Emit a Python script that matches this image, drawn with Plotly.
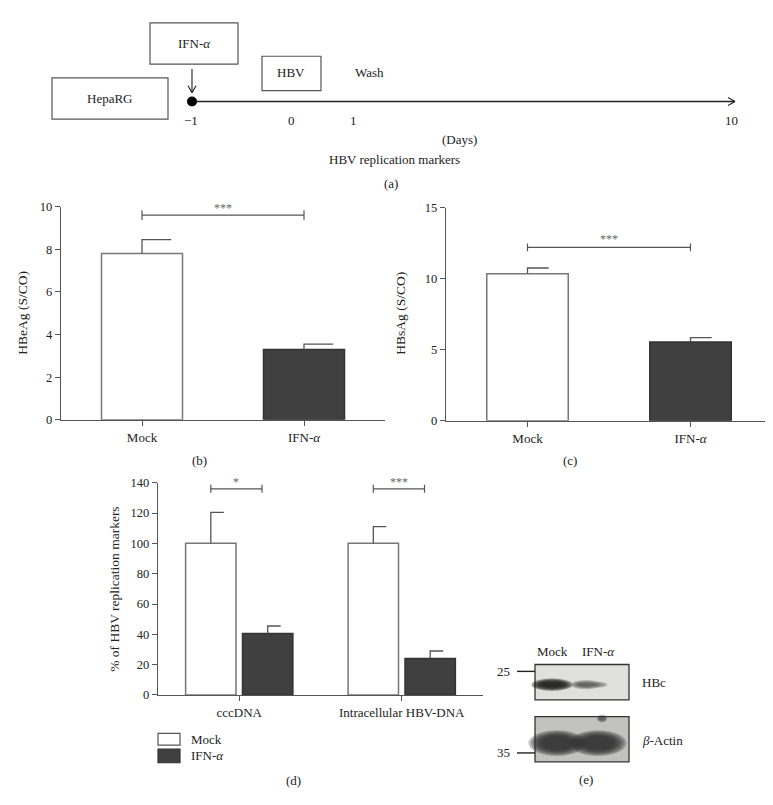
import plotly.graph_objects as go

W, H = 773, 805
def px(x): return x / W
def py(y): return 1 - y / H

FONT = "Liberation Serif, Times New Roman, serif"
AX = "#555555"
DARK = "#404040"
TXT = "#222222"

# ---------------- data ----------------
groups_bc = ["Mock", "IFN-<i>α</i>"]
hbeag = [7.8, 3.3]
hbeag_err = [0.65, 0.25]
hbsag = [10.35, 5.55]
hbsag_err = [0.4, 0.3]
markers = ["cccDNA", "Intracellular HBV-DNA"]
series = ["Mock", "IFN-<i>α</i>"]
mock_pct = [100, 100]
mock_pct_err = [20.5, 11]
ifn_pct = [40.5, 24]
ifn_pct_err = [5, 5]
sig_b = "***"
sig_c = "***"
sig_d = ["*", "***"]
bracket_b = 9.6
bracket_c = 12.2
bracket_d = [136, 136]
day_labels = ["−1", "0", "1", "10"]
blot_lanes = ["Mock", "IFN-<i>α</i>"]
blot_markers = ["25", "35"]
blot_proteins = ["HBc", "<i>β</i>-Actin"]

fig = go.Figure()

# ---------- helper traces ----------
def err_trace(xs, vals, errs, cap, xa, ya):
    X, Y = [], []
    for x, v, e in zip(xs, vals, errs):
        X += [x, x, x + cap, None]
        Y += [v, v + e, v + e, None]
    return go.Scatter(x=X, y=Y, mode="lines", line=dict(color=AX, width=1.3),
                      xaxis=xa, yaxis=ya, hoverinfo="skip", showlegend=False)

def bracket_trace(x0, x1, h, d, xa, ya):
    return go.Scatter(x=[x0, x0, None, x0, x1, None, x1, x1],
                      y=[h - d, h + d, None, h, h, None, h - d, h + d],
                      mode="lines", line=dict(color=AX, width=1.2),
                      xaxis=xa, yaxis=ya, hoverinfo="skip", showlegend=False)

# ---------- panel (b) ----------
fig.add_trace(go.Bar(x=[0, 1], y=hbeag, width=0.5,
                     marker=dict(color=["white", DARK], line=dict(color=["#777777", "#333333"], width=1.5)),
                     xaxis="x", yaxis="y", showlegend=False))
fig.add_trace(err_trace([0, 1], hbeag, hbeag_err, 0.18, "x", "y"))
fig.add_trace(bracket_trace(0, 1, bracket_b, 0.23, "x", "y"))

# ---------- panel (c) ----------
fig.add_trace(go.Bar(x=[0, 1], y=hbsag, width=0.5,
                     marker=dict(color=["white", DARK], line=dict(color=["#777777", "#333333"], width=1.5)),
                     xaxis="x2", yaxis="y2", showlegend=False))
fig.add_trace(err_trace([0, 1], hbsag, hbsag_err, 0.13, "x2", "y2"))
fig.add_trace(bracket_trace(0, 1, bracket_c, 0.28, "x2", "y2"))

# ---------- panel (d) ----------
bw = 0.31
off_m, off_i = -0.33, 0.02
fig.add_trace(go.Bar(x=[0, 1], y=mock_pct, width=bw, offset=off_m, name=series[0],
                     marker=dict(color="white", line=dict(color="#777777", width=1.5)),
                     xaxis="x3", yaxis="y3", showlegend=False))
fig.add_trace(go.Bar(x=[0, 1], y=ifn_pct, width=bw, offset=off_i, name=series[1],
                     marker=dict(color=DARK, line=dict(color="#333333", width=1.5)),
                     xaxis="x3", yaxis="y3", showlegend=False))
cm = [i + off_m + bw / 2 for i in range(2)]
ci = [i + off_i + bw / 2 for i in range(2)]
fig.add_trace(err_trace(cm, mock_pct, mock_pct_err, 0.08, "x3", "y3"))
fig.add_trace(err_trace(ci, ifn_pct, ifn_pct_err, 0.08, "x3", "y3"))
for i in range(2):
    fig.add_trace(bracket_trace(cm[i], ci[i] - 0.035, bracket_d[i], 2.6, "x3", "y3"))

# ---------- axes ----------
def xax(dom, rng, ticktext):
    return dict(domain=dom, range=rng, tickvals=list(range(len(ticktext))), ticktext=ticktext,
                showline=True, linecolor=AX, linewidth=1.3, ticks="outside", ticklen=5,
                tickcolor=AX, tickwidth=1.2, showgrid=False, zeroline=False, fixedrange=True,
                tickfont=dict(family=FONT, size=13, color=TXT))

def yax(dom, rng, dtick, anchor):
    return dict(domain=dom, range=rng, dtick=dtick, anchor=anchor,
                showline=True, linecolor=AX, linewidth=1.3, ticks="outside", ticklen=5,
                tickcolor=AX, tickwidth=1.2, showgrid=False, zeroline=False, fixedrange=True,
                tickfont=dict(family=FONT, size=12.5, color=TXT))

xb = xax([px(53), px(377)], [-0.5, 1.5], groups_bc); xb["anchor"] = "y"
xc = xax([px(438), px(764)], [-0.5, 1.5], groups_bc); xc["anchor"] = "y2"
xd = xax([px(150), px(475)], [-0.5, 1.5], markers); xd["anchor"] = "y3"

fig.update_layout(
    xaxis=xb, yaxis=yax([py(412), py(195)], [0, 10], 2, "x"),
    xaxis2=xc, yaxis2=yax([py(413), py(196)], [0, 15], 5, "x2"),
    xaxis3=xd, yaxis3=yax([py(692), py(476)], [0, 140], 20, "x3"),
)

ann = []
def A(x, y, text, size=13, color=TXT, angle=0, xanchor="center", **kw):
    ann.append(dict(x=px(x), y=py(y), xref="paper", yref="paper", text=text, showarrow=False,
                    font=dict(family=FONT, size=size, color=color), textangle=angle,
                    xanchor=xanchor, yanchor="middle", **kw))

def star(xa, ya, x, y, text, shift):
    ann.append(dict(x=x, y=y, xref=xa, yref=ya, text=text, showarrow=False,
                    font=dict(family=FONT, size=12, color="#666666"),
                    xanchor="center", yanchor="middle", yshift=shift))
star("x", "y", 0.5, bracket_b, sig_b, 7)
star("x2", "y2", 0.5, bracket_c, sig_c, 8)
for i in range(2):
    star("x3", "y3", (cm[i] + ci[i] - 0.035) / 2, bracket_d[i], sig_d[i], 7)

# axis titles
A(15, 303, "HBeAg (S/CO)", size=13.5, angle=-90)
A(393, 304, "HBsAg (S/CO)", size=13.5, angle=-90)
A(107, 585, "% of HBV replication markers", size=13.5, angle=-90)

# sub-figure labels
A(191, 453, "(b)")
A(562, 453, "(c)")
A(285, 779, "(d)")
A(578, 778, "(e)")

shapes = []
def R(x0, y0, x1, y1, fill="rgba(0,0,0,0)", line="#444444", lw=1.2):
    shapes.append(dict(type="rect", xref="paper", yref="paper", x0=px(x0), x1=px(x1),
                       y0=py(y1), y1=py(y0), fillcolor=fill, line=dict(color=line, width=lw)))
def L(x0, y0, x1, y1, color="#222222", lw=1.4):
    shapes.append(dict(type="line", xref="paper", yref="paper", x0=px(x0), x1=px(x1),
                       y0=py(y0), y1=py(y1), line=dict(color=color, width=lw)))
def E(x0, y0, x1, y1, fill, op=1.0):
    shapes.append(dict(type="circle", xref="paper", yref="paper", x0=px(x0), x1=px(x1),
                       y0=py(y1), y1=py(y0), fillcolor=fill, opacity=op, line=dict(width=0)))
def band(cx, cy, w, h, color, n=7, op=0.2, gh=1.6, gl=0.6):
    # soft blot band: stacked translucent ellipses
    for k in range(n):
        f = 1.3 - 0.6 * k / (n - 1)
        g = gh - (gh - gl) * k / (n - 1)
        E(cx - w * f / 2, cy - h * g / 2, cx + w * f / 2, cy + h * g / 2, color, op)

# legend for (d)
R(150, 731, 172, 743, fill="white", line="#555555")
R(150, 747, 172, 761, fill=DARK, line="#333333")
A(181, 737, series[0], xanchor="left")
A(181, 754, series[1], xanchor="left")

# ---------- panel (a) schematic ----------
R(44, 64, 160, 106, line="#555555")
R(142, 8, 230, 50, line="#555555")
R(254, 42, 313, 77, line="#555555")
A(102, 85, "HepaRG")
A(186, 29, "IFN-<i>α</i>")
A(283, 59, "HBV")
A(345, 59, "Wash", xanchor="left")
L(184, 88, 727, 88, lw=1.5)
L(720, 84, 727, 88, lw=1.1)
L(720, 92, 727, 88, lw=1.1)
L(184, 55, 184, 79, lw=1.1)
L(180, 72, 184, 79, lw=1.1)
L(188, 72, 184, 79, lw=1.1)
E(179, 83, 189, 93, "#000000")
day_x = [183, 283, 345, 723]
for lab, x in zip(day_labels, day_x):
    A(x, 107, lab)
A(451, 127, "(Days)")
A(386, 147, "HBV replication markers")
A(383, 171, "(a)")

# ---------- panel (e) western blot ----------
R(527, 661, 621, 697, fill="#e0e0de", line="#333333", lw=1.3)
R(527, 714, 621, 760, fill="#c2c2c0", line="#333333", lw=1.3)
# HBc bands
band(544, 681.5, 32, 8, "#1a1a1a", op=0.3)
band(578, 681.5, 24, 6, "#3a3a3a", op=0.17)
band(592, 681.5, 12, 4, "#6a6a6a", op=0.12)
# actin bands
band(549, 741, 44, 20, "#2e2e2e", op=0.28, gh=1.3, gl=0.7)
band(590, 741, 44, 20, "#2e2e2e", op=0.28, gh=1.3, gl=0.7)
band(594, 716, 8, 5, "#333333", n=4, op=0.25)
# marker ticks
L(509, 668, 527, 668, lw=1.4)
L(509, 751, 527, 751, lw=1.4)
A(504, 668, blot_markers[0], xanchor="right")
A(504, 751, blot_markers[1], xanchor="right")
A(544, 648, blot_lanes[0])
A(590, 648, blot_lanes[1])
A(632, 679, blot_proteins[0], xanchor="left")
A(632, 738, blot_proteins[1], xanchor="left")

fig.update_layout(width=W, height=H, margin=dict(l=0, r=0, t=0, b=0),
                  paper_bgcolor="white", plot_bgcolor="white",
                  annotations=ann, shapes=shapes, showlegend=False,
                  font=dict(family=FONT, size=13, color=TXT), barmode="overlay")

fig.write_html("out.html")
